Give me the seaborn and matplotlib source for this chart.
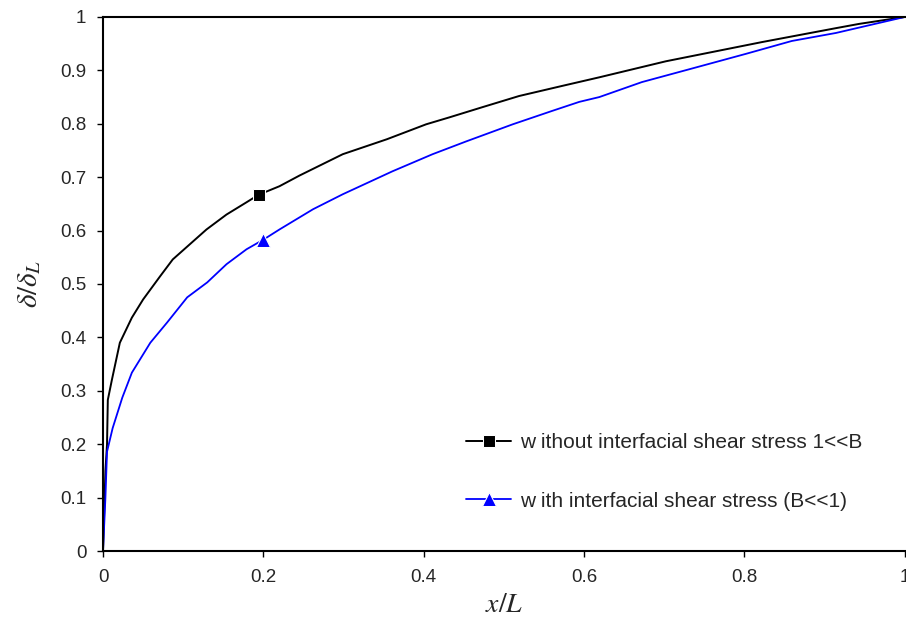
import seaborn as sns
import matplotlib.pyplot as plt
import pandas as pd

# curve without interfacial shear stress
x_without = [0, 0.003, 0.005, 0.006, 0.011, 0.021, 0.036, 0.05, 0.071, 0.087, 0.108, 0.129,
             0.154, 0.179, 0.194, 0.22, 0.245, 0.299, 0.354, 0.403, 0.432, 0.473, 0.519,
             0.573, 0.619, 0.702, 0.822, 0.914, 0.943, 1.0]
y_without = [0, 0.15, 0.2, 0.283, 0.32, 0.39, 0.437, 0.471, 0.514, 0.546, 0.574, 0.602,
             0.630, 0.653, 0.667, 0.683, 0.703, 0.743, 0.771, 0.799, 0.812, 0.831, 0.852,
             0.871, 0.887, 0.917, 0.953, 0.979, 0.987, 1.0]

# curve with interfacial shear stress
x_with = [0, 0.003, 0.005, 0.012, 0.024, 0.036, 0.059, 0.08, 0.105, 0.13, 0.154, 0.179,
          0.2, 0.22, 0.262, 0.299, 0.361, 0.411, 0.453, 0.511, 0.56, 0.594, 0.619, 0.672,
          0.731, 0.802, 0.859, 0.914, 1.0]
y_with = [0, 0.1, 0.186, 0.23, 0.287, 0.334, 0.39, 0.428, 0.475, 0.503, 0.537, 0.565,
          0.583, 0.602, 0.640, 0.668, 0.711, 0.743, 0.767, 0.799, 0.824, 0.841, 0.850,
          0.878, 0.902, 0.931, 0.955, 0.970, 1.0]

label_without = 'w ithout interfacial shear stress 1<<B'
label_with = 'w ith interfacial shear stress (B<<1)'

sns.set_style('white')
plt.rcParams['font.family'] = ['Liberation Sans', 'DejaVu Sans']
plt.rcParams['mathtext.fontset'] = 'stix'

fig = plt.figure(figsize=(9.06, 6.21), dpi=100)
ax = fig.add_axes([0.1137, 0.1127, 0.885, 0.86])

df1 = pd.DataFrame({'x': x_without, 'y': y_without})
df2 = pd.DataFrame({'x': x_with, 'y': y_with})

sns.lineplot(data=df1, x='x', y='y', ax=ax, color='black', lw=1.4, sort=False,
             estimator=None, marker='s', markersize=8.5, markevery=[14],
             label=label_without)
sns.lineplot(data=df2, x='x', y='y', ax=ax, color='blue', lw=1.3, sort=False,
             estimator=None, marker='^', markersize=10.5, markevery=[12],
             label=label_with)

ax.set_xlim(0, 1)
ax.set_ylim(0, 1)
ax.set_xticks([0, 0.2, 0.4, 0.6, 0.8, 1.0])
ax.set_xticklabels(['0', '0.2', '0.4', '0.6', '0.8', '1'])
ax.set_yticks([i / 10 for i in range(11)])
ax.set_yticklabels(['0', '0.1', '0.2', '0.3', '0.4', '0.5', '0.6', '0.7', '0.8', '0.9', '1'])
ax.tick_params(axis='x', direction='out', length=4, width=1, labelsize=13.5,
               bottom=True, color='black', pad=9)
ax.tick_params(axis='y', direction='out', length=4, width=1, labelsize=13.5,
               left=True, color='black', pad=8)

for s in ['left', 'bottom', 'top']:
    ax.spines[s].set_color('black')
    ax.spines[s].set_linewidth(1.5)
ax.spines['right'].set_visible(False)

ax.set_xlabel(r'$x/L$', fontsize=20, labelpad=4)
ax.set_ylabel(r'$\delta/\delta_L$', fontsize=21, labelpad=12)

ax.legend(loc='center left', bbox_to_anchor=(0.453, 0.148), frameon=False, fontsize=15,
          handlelength=2.15, labelspacing=1.9, handletextpad=0.45,
          borderpad=0, borderaxespad=0)

fig.savefig('out.png', dpi=100)
